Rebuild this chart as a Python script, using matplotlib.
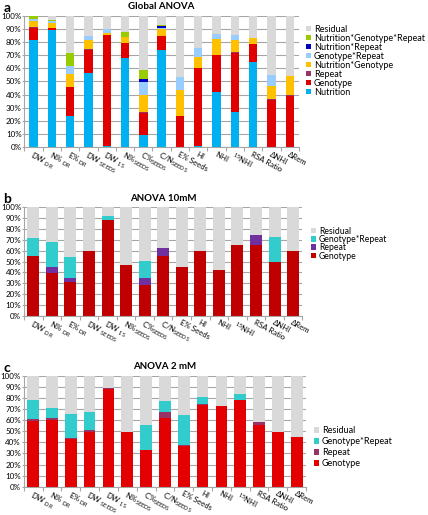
import numpy as np
import matplotlib
matplotlib.use('Agg')
import matplotlib.pyplot as plt

plt.rcParams['font.family'] = ['Lato', 'DejaVu Sans']
plt.rcParams['mathtext.fontset'] = 'custom'
plt.rcParams['mathtext.rm'] = 'Lato'
plt.rcParams['mathtext.it'] = 'Lato'

categories = ['DW $_{\\mathrm{DR}}$', 'N% $_{\\mathrm{DR}}$', 'E% $_{\\mathrm{DR}}$',
              'DW $_{\\mathrm{SEEDS}}$', 'DW $_{\\mathrm{1S}}$', 'N%$_{\\mathrm{SEEDS}}$',
              'C%$_{\\mathrm{SEEDS}}$', 'C/N$_{\\mathrm{SEEDS}}$', 'E% Seeds', 'HI', 'NHI',
              '$^{15}$NHI', 'RSA Ratio', '\u0394NHI', '\u0394Rem']

# panel a - global ANOVA (% of variance)
glob_nutrition = [82, 89, 23.5, 56.5, 1, 68, 9, 74, 0, 1, 42, 26.5, 65, 0, 0]
glob_genotype = [9, 1.5, 22, 17.5, 84.5, 11, 17, 10.5, 23.5, 59, 28, 45.5, 13.5, 36, 39]
glob_repeat = [0.5, 0.5, 0.5, 0.5, 0.3, 0.5, 0.5, 0.3, 0.3, 0.3, 0.3, 0.3, 0.3, 0.3, 0.3]
glob_nut_gen = [4.5, 3.5, 9.5, 7, 1.2, 4.5, 13, 5, 19.5, 8.5, 12, 9.5, 4.5, 10, 15]
glob_gen_rep = [2, 1.5, 6, 3, 3, 0, 10, 1, 10, 6.5, 4, 4, 0, 8.5, 0]
glob_nut_rep = [0, 0, 0, 0, 0, 0, 2.5, 1.5, 0, 0, 0, 0, 0, 0, 0]
glob_nut_gen_rep = [2, 1, 10, 0, 0, 3.5, 6.5, 1, 0, 0, 0, 0, 0, 0, 0]
glob_residual = [0, 3, 28.5, 15.5, 10, 12.5, 41.5, 6.7, 46.7, 24.7, 13.7, 14.2, 16.7, 45.2, 45.7]

# panel b - ANOVA 10mM
n10_genotype = [55, 39.5, 31.5, 60, 88, 47, 28, 55, 45, 60, 42, 65, 65, 50, 60]
n10_repeat = [0, 5.5, 3.5, 0, 0, 0, 6.5, 8, 0.3, 0, 0, 0, 10, 0, 0]
n10_gen_rep = [17, 23.5, 19.5, 0, 4, 0, 16, 0, 0, 0, 0, 0, 0, 23, 0]
n10_residual = [28, 31.5, 45.5, 40, 8, 53, 49.5, 37, 54.7, 40, 58, 35, 25, 27, 40]

# panel c - ANOVA 2 mM
n2_genotype = [59.5, 60, 43.5, 49.5, 88.5, 49.5, 33, 62.5, 37, 74, 73, 78, 55.5, 49, 45]
n2_repeat = [2, 2.5, 0.5, 1.5, 0.5, 0, 0, 5, 0.5, 0.5, 0, 0.5, 3, 0.3, 0]
n2_gen_rep = [17, 9, 22, 16.5, 0, 0, 22.5, 10, 27, 6.5, 0, 5.5, 0, 0, 0]
n2_residual = [21.5, 28.5, 34, 32.5, 11, 50.5, 44.5, 22.5, 35.5, 19, 27, 16, 41.5, 50.7, 55]

GRID = '#a6a6a6'


def stacked_panel(ax, series, names, colors, width, title):
    x = np.arange(len(categories))
    bottom = np.zeros(len(categories))
    handles = []
    for vals, name, color in zip(series, names, colors):
        vals = np.array(vals, dtype=float)
        h = ax.bar(x, vals, width, bottom=bottom, color=color, label=name, linewidth=0)
        handles.append(h)
        bottom += vals
    ax.set_xlim(-0.5, len(categories) - 0.5)
    ax.set_ylim(0, 100)
    ax.set_yticks(np.arange(0, 101, 10))
    ax.set_yticklabels(['%d%%' % v for v in range(0, 101, 10)], fontsize=5.8)
    ax.yaxis.grid(True, color=GRID, linewidth=0.8)
    ax.set_axisbelow(True)
    ax.set_xticks(x)
    ax.set_xticklabels(categories, rotation=-28, ha='left', va='top',
                       rotation_mode='anchor', fontsize=5.6)
    ax.set_xticks(np.arange(-0.5, len(categories)), minor=True)
    ax.tick_params(axis='x', which='major', length=0, pad=2.5)
    ax.tick_params(axis='x', which='minor', length=3, color=GRID, width=0.8)
    ax.tick_params(axis='y', length=1.5, color=GRID, width=0.8, pad=0.5)
    for s in ['top', 'right']:
        ax.spines[s].set_visible(False)
    for s in ['left', 'bottom']:
        ax.spines[s].set_color(GRID)
        ax.spines[s].set_linewidth(0.8)
    ax.set_title(title, fontsize=7, fontweight='bold', pad=5)
    return handles


fig = plt.figure(figsize=(4.28, 5.15), dpi=100)

# a
ax1 = fig.add_axes([0.0568, 0.7146, 0.6418, 0.2544])
names_a = ['Nutrition', 'Genotype', 'Repeat', 'Nutrition*Genotype', 'Genotype*Repeat',
           'Nutrition*Repeat', 'Nutrition*Genotype*Repeat', 'Residual']
colors_a = ['#00b0f0', '#e00000', '#993366', '#ffc000', '#99ccff', '#0000c0', '#99cc00', '#d9d9d9']
h = stacked_panel(ax1, [glob_nutrition, glob_genotype, glob_repeat, glob_nut_gen, glob_gen_rep,
                        glob_nut_rep, glob_nut_gen_rep, glob_residual],
                  names_a, colors_a, 0.46, 'Global ANOVA')
ax1.legend(h[::-1], names_a[::-1], loc='upper left', bbox_to_anchor=(0.714, 0.952),
           bbox_transform=fig.transFigure, frameon=False, fontsize=6.5,
           handlelength=0.6, handleheight=0.6, handletextpad=0.3, labelspacing=0.0,
           borderpad=0, borderaxespad=0)

# b
ax2 = fig.add_axes([0.0561, 0.3870, 0.6505, 0.2101])
names_b = ['Genotype', 'Repeat', 'Genotype*Repeat', 'Residual']
colors_b = ['#c00000', '#7030a0', '#33cccc', '#d9d9d9']
h = stacked_panel(ax2, [n10_genotype, n10_repeat, n10_gen_rep, n10_residual],
                  names_b, colors_b, 0.65, 'ANOVA 10mM')
ax2.legend(h[::-1], names_b[::-1], loc='upper left', bbox_to_anchor=(0.726, 0.560),
           bbox_transform=fig.transFigure, frameon=False, fontsize=6.2,
           handlelength=0.65, handleheight=0.65, handletextpad=0.3, labelspacing=-0.08,
           borderpad=0, borderaxespad=0)

# c
ax3 = fig.add_axes([0.0555, 0.0550, 0.6597, 0.2149])
names_c = ['Genotype', 'Repeat', 'Genotype*Repeat', 'Residual']
colors_c = ['#e30000', '#993366', '#33cccc', '#d9d9d9']
h = stacked_panel(ax3, [n2_genotype, n2_repeat, n2_gen_rep, n2_residual],
                  names_c, colors_c, 0.62, 'ANOVA 2 mM')
ax3.legend(h[::-1], names_c[::-1], loc='upper left', bbox_to_anchor=(0.733, 0.172),
           bbox_transform=fig.transFigure, frameon=False, fontsize=6.5,
           handlelength=0.6, handleheight=0.6, handletextpad=0.3, labelspacing=0.2,
           borderpad=0, borderaxespad=0)

fig.text(0.008, 0.997, 'a', fontsize=10, fontweight='bold', va='top')
fig.text(0.008, 0.625, 'b', fontsize=10, fontweight='bold', va='top')
fig.text(0.008, 0.298, 'c', fontsize=10, fontweight='bold', va='top')

fig.savefig('out.png', dpi=100)
